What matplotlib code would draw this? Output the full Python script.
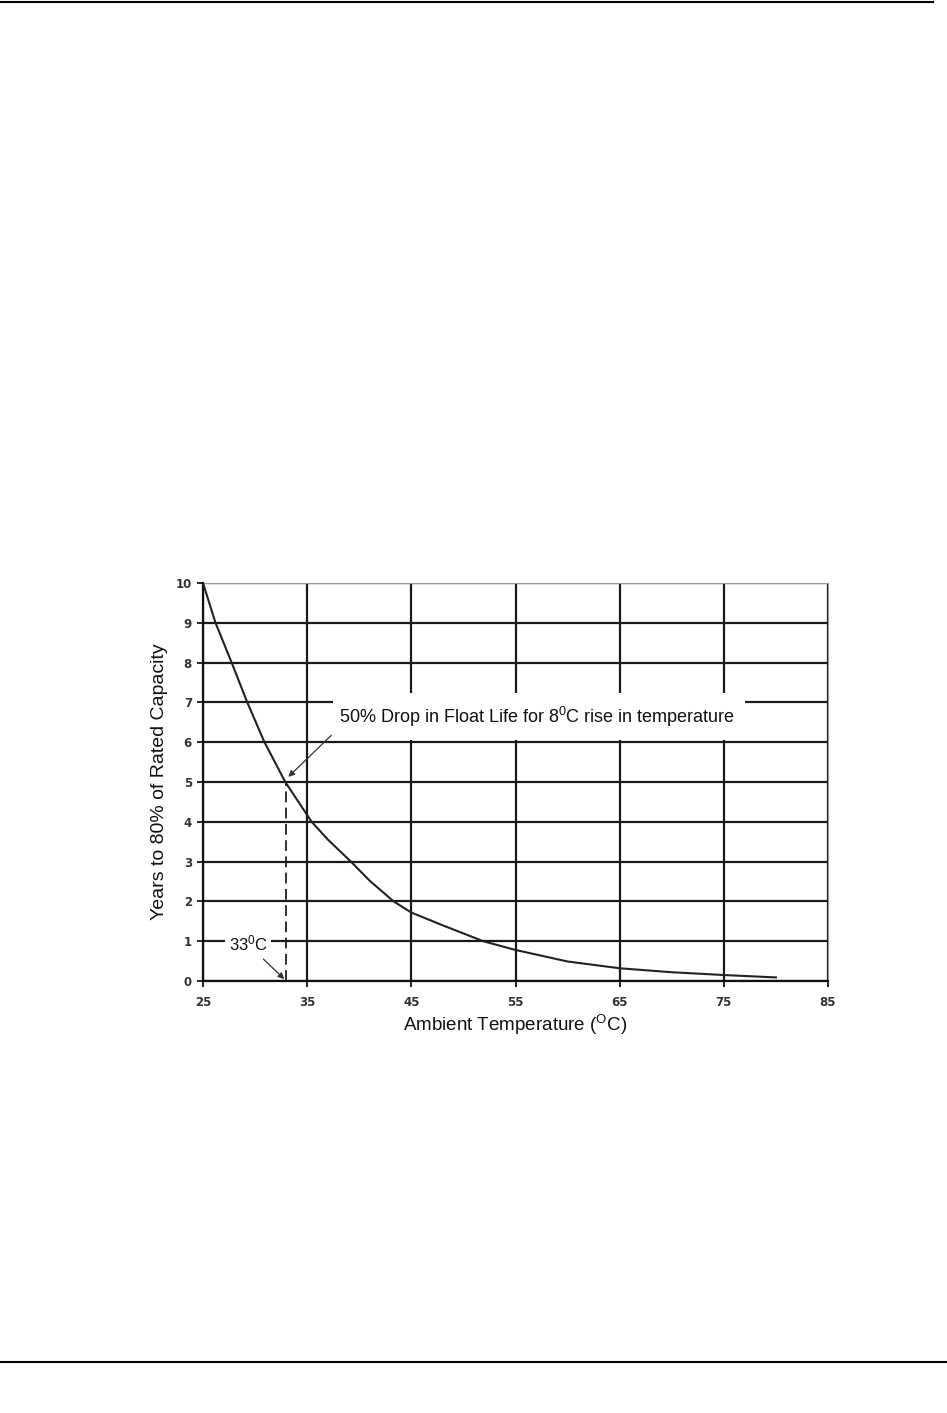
import matplotlib
matplotlib.use("Agg")
import matplotlib.pyplot as plt
from matplotlib.lines import Line2D
from matplotlib.patches import Rectangle

plt.rcParams['font.family'] = ['Liberation Sans', 'DejaVu Sans']
plt.rcParams['mathtext.fontset'] = 'custom'
plt.rcParams['mathtext.rm'] = 'Liberation Sans'
plt.rcParams['mathtext.default'] = 'regular'

# curve
temps = [25, 26.2, 27.75, 29.25, 30.9, 32.9, 35.43, 37, 39.2, 41, 43.3, 45, 48, 51.9,
         55, 60, 65, 70, 75, 80]
years = [10, 9, 8, 7, 6, 5, 4, 3.55, 3, 2.52, 2, 1.72, 1.4, 1,
         0.78, 0.49, 0.32, 0.22, 0.15, 0.09]

xticks = [25, 35, 45, 55, 65, 75, 85]
yticks = list(range(0, 11))

marker_temp = 33
marker_years = 5

gridColor = "#1a1a1a"
lineColor = "#222222"

fig = plt.figure(figsize=(9.47, 14.13), dpi=100)
ax = fig.add_axes([203 / 947, 1 - 981 / 1413, 625 / 947, 398 / 1413])

ax.set_xlim(25, 85)
ax.set_ylim(0, 10)
ax.set_xticks(xticks)
ax.set_yticks(yticks)
ax.tick_params(axis='both', labelsize=8.5, length=4, width=1.2)
ax.tick_params(axis='x', pad=7)
ax.tick_params(axis='y', pad=4)
for lbl in ax.get_xticklabels() + ax.get_yticklabels():
    lbl.set_family('DejaVu Sans')
    lbl.set_fontweight('bold')
    lbl.set_color('#333333')

ax.grid(True, color=gridColor, linewidth=1.6, zorder=1)
ax.set_axisbelow(True)
ax.spines['left'].set_color('#111111')
ax.spines['bottom'].set_color('#111111')
ax.spines['left'].set_linewidth(1.6)
ax.spines['bottom'].set_linewidth(1.6)
ax.spines['top'].set_color('#999999')
ax.spines['right'].set_color('#999999')

# white boxes that break the grid behind the labels
ax.add_patch(Rectangle((37.5, 6.06), 39.5, 1.18, facecolor='white', edgecolor='none', zorder=2))
ax.add_patch(Rectangle((27.1, 0.66), 4.4, 0.62, facecolor='white', edgecolor='none', zorder=2))

ax.plot(temps, years, color=lineColor, linewidth=1.5, zorder=3, solid_joinstyle='round')
ax.plot([marker_temp, marker_temp], [0, marker_years], color=lineColor, linewidth=1.3,
        linestyle=(0, (6, 3)), zorder=3)

ax.text(57.1, 6.64, r"50% Drop in Float Life for 8$^0$C rise in temperature",
        fontsize=13, ha='center', va='center', zorder=4, color='#111111')
ax.annotate("", xy=(marker_temp, marker_years + 0.08), xytext=(37.5, 6.22),
            arrowprops=dict(arrowstyle='-|>', color='#333333', lw=0.9, mutation_scale=9),
            zorder=4)

ax.text(29.4, 0.95, r"33$^0$C", fontsize=12, ha='center', va='center', zorder=4, color='#111111')
ax.annotate("", xy=(marker_temp, 0.0), xytext=(30.6, 0.6),
            arrowprops=dict(arrowstyle='-|>', color='#333333', lw=0.9, mutation_scale=9),
            zorder=4)

ax.set_xlabel(r"Ambient Temperature ($^O$C)", fontsize=13.5, color='#111111')
ax.set_ylabel("Years to 80% of Rated Capacity", fontsize=14, color='#111111')
ax.xaxis.set_label_coords(0.5, -0.08)
ax.yaxis.set_label_coords(-0.056, 0.5)

# page rules
fig.add_artist(Line2D([0, 933 / 947], [1 - 1.5 / 1413] * 2, color='black', linewidth=1.5))
fig.add_artist(Line2D([0, 1], [1 - 1362 / 1413] * 2, color='black', linewidth=1.5))

fig.savefig("out.png", dpi=100, facecolor='white')
